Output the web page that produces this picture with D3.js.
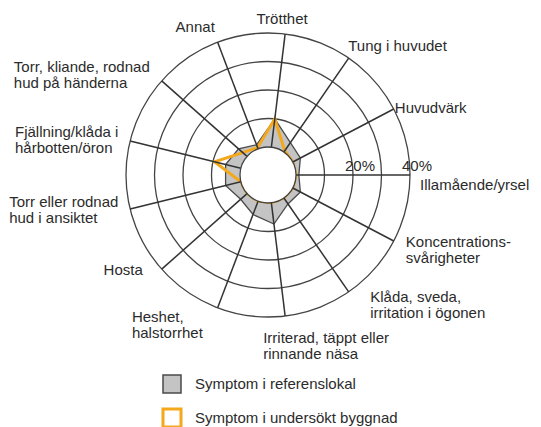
<!DOCTYPE html>
<html>
<head>
<meta charset="utf-8">
<script src="https://cdn.jsdelivr.net/npm/d3@7"></script>
<style>
  body { margin: 0; background: #fff; }
  svg { display: block; }
  text { font-family: "Liberation Sans", Arial, sans-serif; font-size: 15px; fill: #2b2b2b; }
</style>
</head>
<body>
<div id="chart"></div>
<script>
// symptom categories, clockwise, starting at the top
let categories = [
    ['Trötthet'],
    ['Tung i huvudet'],
    ['Huvudvärk'],
    ['Illamående/yrsel'],
    ['Koncentrations-', 'svårigheter'],
    ['Klåda, sveda,', 'irritation i ögonen'],
    ['Irriterad, täppt eller', 'rinnande näsa'],
    ['Heshet,', 'halstorrhet'],
    ['Hosta'],
    ['Torr eller rodnad', 'hud i ansiktet'],
    ['Fjällning/klåda i', 'hårbotten/öron'],
    ['Torr, kliande, rodnad', 'hud på händerna'],
    ['Annat']
];

// percent of people with the symptom
let referens = [10, 4, 3, 1, 3, 2.5, 7.5, 5, 3, 5.5, 5.5, 4, 1.5];
let undersokt = [10, 0.5, 0, 0, 0, 0, 0, 0, 0, 0, 9.5, 2, 0.5];

// rings and tick labels
let rings = [10, 20, 30, 40];
let tickLabels = [20, 40];

let legendItems = ['Symptom i referenslokal', 'Symptom i undersökt byggnad'];

// chart dimensions
let dim = { 'width': 541, 'height': 427 };
let cx = 268, cy = 175;

// small nudges for the category labels, [dx, dy]
let nudge = [[-4, 0], [-5, -6], [-6, 3], [2, 10], [5, 5], [17, 7], [40, 7],
             [-12, 10], [-13, -4], [-4, -1], [-4, 1], [-6, -1], [0, -8]];

let svg = d3.select('#chart')
    .append('svg')
    .attr('width', dim.width)
    .attr('height', dim.height);

let g = svg.append('g')
    .attr('transform', `translate(${cx}, ${cy})`);

// radius scale: 0 % sits on the white hole in the middle
let scaleR = d3.scaleLinear()
    .domain([0, 40])
    .range([28, 142]);

// angle for each category, clockwise from the top
let step = 2 * Math.PI / categories.length;
let offset = Math.PI / 2 - 3 * step;   // Illamående/yrsel points straight right
let angle = i => offset + i * step;

// grid circles
g.selectAll('circle.ring')
    .data(rings)
    .join('circle')
    .attr('class', 'ring')
    .attr('r', d => scaleR(d))
    .attr('fill', 'none')
    .attr('stroke', '#444')
    .attr('stroke-width', 1.3);

// data polygons
let line = d3.lineRadial()
    .angle((d, i) => angle(i))
    .radius(d => scaleR(d))
    .curve(d3.curveLinearClosed);

g.append('path')
    .attr('d', line(referens))
    .attr('fill', '#c4c4c4')
    .attr('stroke', '#4a4a4a')
    .attr('stroke-width', 1.3);

g.append('path')
    .attr('d', line(undersokt))
    .attr('fill', 'none')
    .attr('stroke', '#f4a81c')
    .attr('stroke-width', 3)
    .attr('stroke-linejoin', 'miter');

// spokes
g.selectAll('line.spoke')
    .data(categories)
    .join('line')
    .attr('class', 'spoke')
    .attr('x1', (d, i) => scaleR(0) * Math.sin(angle(i)))
    .attr('y1', (d, i) => -scaleR(0) * Math.cos(angle(i)))
    .attr('x2', (d, i) => scaleR(40) * Math.sin(angle(i)))
    .attr('y2', (d, i) => -scaleR(40) * Math.cos(angle(i)))
    .attr('stroke', '#333')
    .attr('stroke-width', 1.5);

// white hole in the middle
g.append('circle')
    .attr('r', scaleR(0))
    .attr('fill', '#fff')
    .attr('stroke', '#444')
    .attr('stroke-width', 1.3);

// tick labels along the horizontal spoke
g.selectAll('text.tick')
    .data(tickLabels)
    .join('text')
    .attr('class', 'tick')
    .attr('x', d => scaleR(d) - 8)
    .attr('y', -4)
    .text(d => d + '%');

// category labels, left aligned blocks placed round the outer ring
let labelR = scaleR(40) + 8;
let lh = 16;
categories.forEach((lines, i) => {
    let a = angle(i);
    let s = Math.sin(a), c = Math.cos(a);
    let px = labelR * s, py = -labelR * c;
    let t = g.append('text');
    lines.forEach(l => t.append('tspan').text(l));
    let w = d3.max(t.selectAll('tspan').nodes(), n => n.getComputedTextLength());
    let x, y0;
    if (s > 0.3) { x = px; y0 = py - (lines.length - 1) * lh / 2 + 5; }
    else if (s < -0.3) { x = px - w; y0 = py - (lines.length - 1) * lh / 2 + 5; }
    else if (c > 0) { x = px - w / 2; y0 = py - 2 - (lines.length - 1) * lh; }
    else { x = px - w / 2; y0 = py + 12; }
    x += nudge[i][0];
    y0 += nudge[i][1];
    t.selectAll('tspan')
        .attr('x', x)
        .attr('y', (d, j) => y0 + j * lh);
});

// legend
let legend = svg.append('g')
    .attr('transform', 'translate(163, 375)');

legend.append('rect')
    .attr('width', 18).attr('height', 18)
    .attr('fill', '#c4c4c4')
    .attr('stroke', '#4a4a4a')
    .attr('stroke-width', 1.5);

legend.append('rect')
    .attr('y', 34)
    .attr('width', 18).attr('height', 18)
    .attr('fill', '#fff')
    .attr('stroke', '#f4a81c')
    .attr('stroke-width', 3);

legend.selectAll('text')
    .data(legendItems)
    .join('text')
    .attr('x', 32)
    .attr('y', (d, i) => 14 + i * 34)
    .text(d => d);
</script>
</body>
</html>
